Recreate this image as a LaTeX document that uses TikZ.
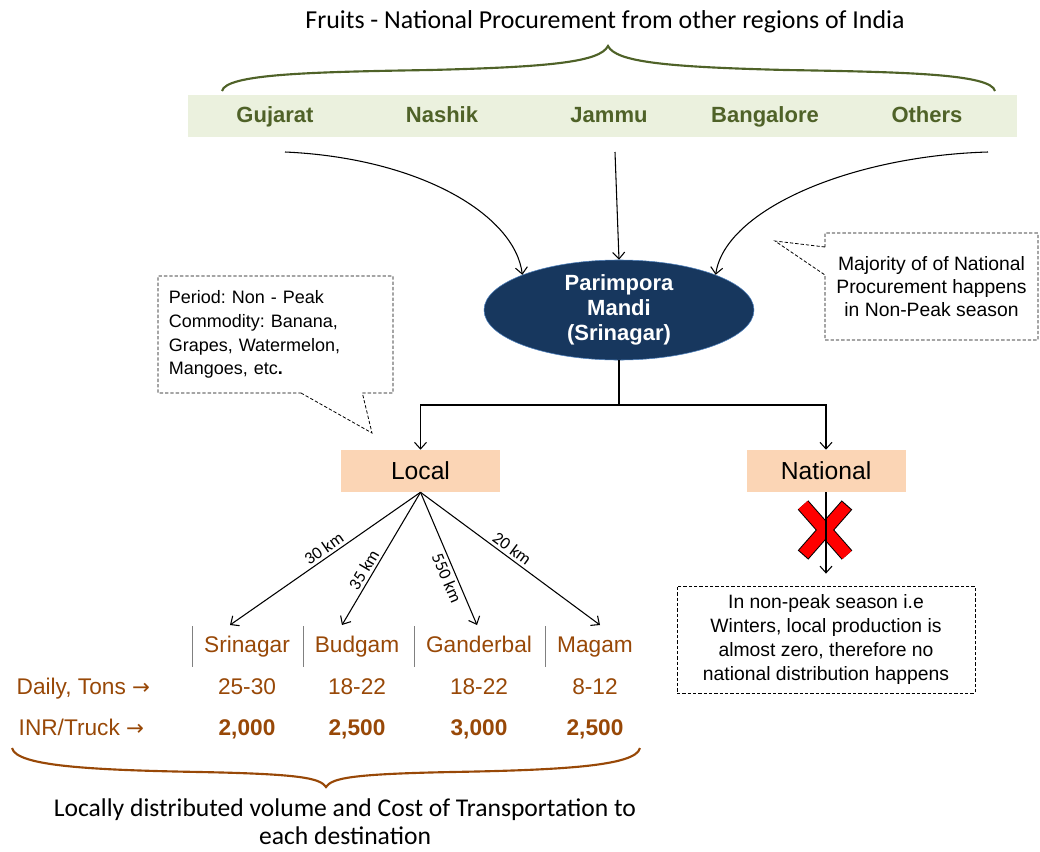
\documentclass[tikz,border=0pt]{standalone}
\usepackage{fontspec}
\setmainfont{Liberation Sans}
\newfontfamily\calibri{Carlito}
\newfontfamily\arrowfont{DejaVu Sans}
\usetikzlibrary{shapes.geometric,shapes.callouts,arrows.meta}
\frenchspacing

\definecolor{regiongreen}{HTML}{4F6228}
\definecolor{bandgreen}{HTML}{EBF1DE}
\definecolor{mandiblue}{HTML}{17375E}
\definecolor{mandiedge}{HTML}{4F81BD}
\definecolor{peach}{HTML}{FBD5B5}
\definecolor{cityorange}{HTML}{984807}

\newcommand{\rowarrow}{{\arrowfont\fontsize{16}{18}\selectfont →}}

\tikzset{
    flow/.style = {-{Straight Barb[length=5pt,width=9pt]}, line width=0.8pt},
    region-band/.style = {fill=bandgreen, minimum width=621.75pt, minimum height=31.5pt, inner sep=0pt},
    region-name/.style = {anchor=base, text=regiongreen, font=\fontsize{16.5}{20}\selectfont\bfseries},
    mandi-ellipse/.style = {ellipse, fill=mandiblue, draw=mandiedge, thin, text=white, align=center, inner sep=0pt,
        minimum width=202.5pt, minimum height=70.5pt, font=\fontsize{16.5}{18.8}\selectfont\bfseries},
    split-box/.style = {fill=peach, minimum width=119.25pt, minimum height=31.5pt, font=\fontsize{18.5}{22}\selectfont},
    note-box/.style = {draw, dash pattern=on 2.5pt off 1.5pt, line width=0.6pt, fill=white},
    km-label/.style = {font=\calibri\fontsize{13}{15}\selectfont, sloped, inner sep=2pt},
    city/.style = {anchor=base, text=cityorange, font=\fontsize{17}{20}\selectfont},
    city-bold/.style = {city, font=\fontsize{17}{20}\selectfont\bfseries},
}

\begin{document}
\begin{tikzpicture}[x=0.75pt, y=-0.75pt]
\useasboundingbox (0,0) rectangle (1040,851);

% sourcing regions
\node[font=\calibri\fontsize{19.4}{23}\selectfont] (title) at (605,22) {Fruits - National Procurement from other regions of India};
\draw[regiongreen, line width=1.6pt]
    (222,91) .. controls (226,74) and (310,72) .. (430,70) .. controls (550,67) and (600,62) .. (608,46)
    .. controls (616,62) and (666,67) .. (786,70) .. controls (906,72) and (991,74) .. (995,91);
\node[region-band] (band) at (602.5,116) {};
\node[region-name] (gujarat) at (275,122) {Gujarat};
\node[region-name] (nashik) at (442,122) {Nashik};
\node[region-name] (jammu) at (609,122) {Jammu};
\node[region-name] (bangalore) at (765,122) {Bangalore};
\node[region-name] (others) at (927,122) {Others};

\coordinate (src-left) at (285,152);
\coordinate (src-mid) at (615,152);
\coordinate (src-right) at (988,152);

\node[mandi-ellipse] (mandi) at (619,310) {Parimpora\\Mandi\\(Srinagar)};

\draw[flow] (src-left) .. controls (420,158) and (515,215) .. (mandi.160);
\draw[flow] (src-mid) -- (mandi.north);
\draw[flow] (src-right) .. controls (850,156) and (725,210) .. (mandi.20);

% notes
\node[note-box, rectangle callout, callout absolute pointer={(372,433)}, callout pointer width=46pt,
    minimum width=176.25pt, minimum height=87.75pt, text width=160pt, inner xsep=7.5pt, align=left,
    font=\fontsize{13.5}{17.8}\selectfont] (period-note) at (275.5,334.5)
    {Period: Non - Peak\\Commodity: Banana,\\Grapes, Watermelon,\\Mangoes, etc\textbf{.}};
\node[note-box, rectangle callout, callout absolute pointer={(775,241)}, callout pointer width=21pt,
    minimum width=159.75pt, minimum height=80.25pt, align=center,
    font=\fontsize{14.5}{17.3}\selectfont] (season-note) at (931.5,286.5)
    {Majority of of National\\Procurement happens\\in Non-Peak season};

% split into local and national
\node[split-box] (local) at (420.5,471) {Local};
\node[split-box] (national) at (826,471) {National};
\coordinate (split) at (619,405);
\draw[line width=0.8pt] (mandi.south) -- (split);
\draw[flow] (split) -| (local.north);
\draw[flow] (split) -| (national.north);

% local destinations
\node[city] (srinagar) at (247,652) {Srinagar};
\node[city] (budgam) at (357,652) {Budgam};
\node[city] (ganderbal) at (479,652) {Ganderbal};
\node[city] (magam) at (595,652) {Magam};
\foreach \x in {192,303,414,545}
    \draw[gray, line width=0.6pt] (\x,626) -- (\x,667);

\coordinate (to-srinagar) at (230,625);
\coordinate (to-budgam) at (342,625);
\coordinate (to-ganderbal) at (477,625);
\coordinate (to-magam) at (600,625);
\draw[flow] (local.south) -- node[km-label, above, pos=0.48] {30 km} (to-srinagar);
\draw[flow] (local.south) -- node[km-label, above, pos=0.62] {35 km} (to-budgam);
\draw[flow] (local.south) -- node[km-label, below, pos=0.62] {550 km} (to-ganderbal);
\draw[flow] (local.south) -- node[km-label, above, pos=0.48] {20 km} (to-magam);

\node[city, anchor=base west] (daily) at (12,694) {Daily, Tons \rowarrow};
\node[city] (daily-srinagar) at (247,694) {25-30};
\node[city] (daily-budgam) at (357,694) {18-22};
\node[city] (daily-ganderbal) at (479,694) {18-22};
\node[city] (daily-magam) at (595,694) {8-12};

\node[city, anchor=base west] (cost) at (14,735) {INR/Truck \rowarrow};
\node[city-bold] (cost-srinagar) at (247,735) {2,000};
\node[city-bold] (cost-budgam) at (357,735) {2,500};
\node[city-bold] (cost-ganderbal) at (479,735) {3,000};
\node[city-bold] (cost-magam) at (595,735) {2,500};

\draw[cityorange, line width=1.6pt]
    (12,748) .. controls (16,766) and (90,770) .. (200,772) .. controls (300,774) and (320,778) .. (326,787)
    .. controls (332,778) and (352,774) .. (452,772) .. controls (562,770) and (636,766) .. (640,748);
\node[font=\calibri\fontsize{19.2}{21}\selectfont, align=center, inner sep=1pt] (summary) at (345,822)
    {Locally distributed volume and Cost of Transportation to\\each destination};

% national distribution blocked
\node[note-box, minimum width=223.5pt, minimum height=80.25pt, align=center,
    font=\fontsize{14.5}{18}\selectfont] (winter-note) at (826,639.5)
    {In non-peak season i.e\\Winters, local production is\\almost zero, therefore no\\national distribution happens};
\draw[black, line width=10.5pt] (803,505) -- (847,555) (847,505) -- (803,555);
\draw[red, line width=9pt, shorten <=0.8pt, shorten >=0.8pt] (803,505) -- (847,555) (847,505) -- (803,555);
\draw[flow, shorten >=9pt] (national.south) -- (winter-note.north);
\end{tikzpicture}
\end{document}
